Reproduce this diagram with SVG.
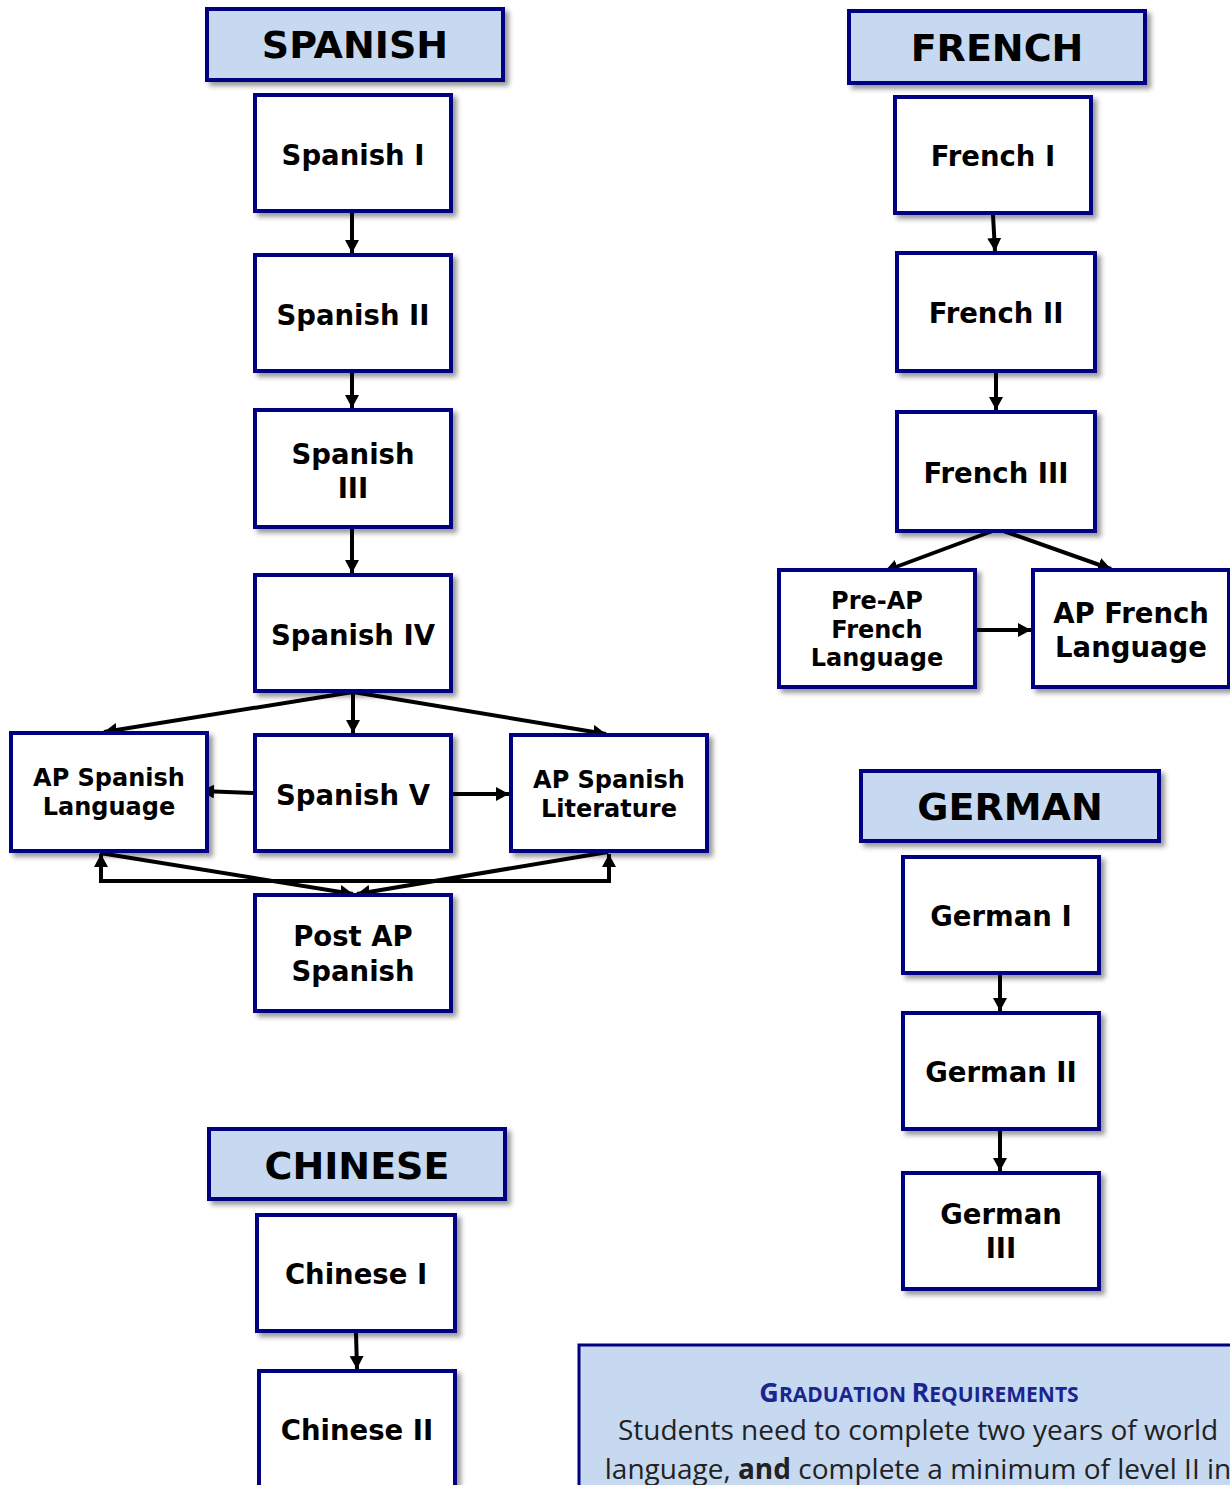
<svg xmlns="http://www.w3.org/2000/svg" width="1230" height="1485" viewBox="0 0 1230 1485">
<defs>
<filter id="sh" x="-10%" y="-10%" width="130%" height="130%">
<feDropShadow dx="4" dy="4" stdDeviation="2.5" flood-color="#000" flood-opacity="0.4"/>
</filter>
<marker id="ah" markerUnits="userSpaceOnUse" markerWidth="16" markerHeight="16" refX="13" refY="7" orient="auto">
<path d="M0,0 L13,7 L0,14 z" fill="#000"/>
</marker>
</defs>
<style>
.hdr rect{fill:#c6d9f1;stroke:#000080;stroke-width:4;filter:url(#sh)}
.nd rect{fill:#fff;stroke:#000080;stroke-width:4;filter:url(#sh)}
.hdr text{font-family:"DejaVu Sans",Verdana,sans-serif;font-weight:bold;font-size:38px;text-anchor:middle;fill:#000}
.nd text{font-family:"DejaVu Sans",Verdana,sans-serif;font-weight:bold;font-size:27.5px;text-anchor:middle;fill:#000}
.nd text.sm{font-size:24px}
.cn path{fill:none;stroke:#000;stroke-width:4;marker-end:url(#ah)}
.gr text{font-family:"Open Sans","Liberation Sans",sans-serif;text-anchor:middle}
</style>

<g class="cn" id="connectors">
<path d="M352,213 V253"/>
<path d="M352,373 V408"/>
<path d="M352,529 V573"/>
<path d="M353,692 L104,732"/>
<path d="M353,692 V733"/>
<path d="M353,692 L606,734"/>
<path d="M253,793 L201,791"/>
<path d="M453,794 H509"/>
<path d="M100,853 L353,894"/>
<path d="M608,852 L357,894"/>
<path d="M355,881 H101 V854"/>
<path d="M355,881 H609 V854"/>
<path d="M993,215 L995,251"/>
<path d="M996,373 V410"/>
<path d="M998,529 L885,571"/>
<path d="M998,529 L1111,569"/>
<path d="M977,630 H1031"/>
<path d="M1000,975 V1011"/>
<path d="M1000,1131 V1171"/>
<path d="M356,1333 L357,1369"/>
</g>

<g class="hdr" id="h-spanish"><rect x="207" y="9" width="296" height="71"/><text x="355" y="58">SPANISH</text></g>
<g class="hdr" id="h-french"><rect x="849" y="11" width="296" height="72"/><text x="997" y="61">FRENCH</text></g>
<g class="hdr" id="h-german"><rect x="861" y="771" width="298" height="70"/><text x="1010" y="820">GERMAN</text></g>
<g class="hdr" id="h-chinese"><rect x="209" y="1129" width="296" height="70"/><text x="357" y="1179">CHINESE</text></g>

<g class="nd" id="spanish1"><rect x="255" y="95" width="196" height="116"/><text x="353" y="165">Spanish I</text></g>
<g class="nd" id="spanish2"><rect x="255" y="255" width="196" height="116"/><text x="353" y="325">Spanish II</text></g>
<g class="nd" id="spanish3"><rect x="255" y="410" width="196" height="117"/><text x="353" y="464">Spanish</text><text x="353" y="498">III</text></g>
<g class="nd" id="spanish4"><rect x="255" y="575" width="196" height="116"/><text x="353" y="645">Spanish IV</text></g>
<g class="nd" id="apspanlang"><rect x="11" y="733" width="196" height="118"/><text class="sm" x="109" y="786">AP Spanish</text><text class="sm" x="109" y="815">Language</text></g>
<g class="nd" id="spanish5"><rect x="255" y="735" width="196" height="116"/><text x="353" y="805">Spanish V</text></g>
<g class="nd" id="apspanlit"><rect x="511" y="735" width="196" height="116"/><text class="sm" x="609" y="788">AP Spanish</text><text class="sm" x="609" y="817">Literature</text></g>
<g class="nd" id="postap"><rect x="255" y="895" width="196" height="116"/><text x="353" y="946">Post AP</text><text x="353" y="981">Spanish</text></g>

<g class="nd" id="french1"><rect x="895" y="97" width="196" height="116"/><text x="993" y="166">French I</text></g>
<g class="nd" id="french2"><rect x="897" y="253" width="198" height="118"/><text x="996" y="323">French II</text></g>
<g class="nd" id="french3"><rect x="897" y="412" width="198" height="119"/><text x="996" y="483">French III</text></g>
<g class="nd" id="preapfr"><rect x="779" y="570" width="196" height="117"/><text class="sm" x="877" y="609">Pre-AP</text><text class="sm" x="877" y="638">French</text><text class="sm" x="877" y="666">Language</text></g>
<g class="nd" id="apfr"><rect x="1033" y="570" width="196" height="117"/><text x="1131" y="623">AP French</text><text x="1131" y="657">Language</text></g>

<g class="nd" id="german1"><rect x="903" y="857" width="196" height="116"/><text x="1001" y="926">German I</text></g>
<g class="nd" id="german2"><rect x="903" y="1013" width="196" height="116"/><text x="1001" y="1082">German II</text></g>
<g class="nd" id="german3"><rect x="903" y="1173" width="196" height="116"/><text x="1001" y="1224">German</text><text x="1001" y="1258">III</text></g>

<g class="nd" id="chinese1"><rect x="257" y="1215" width="198" height="116"/><text x="356" y="1284">Chinese I</text></g>
<g class="nd" id="chinese2"><rect x="259" y="1371" width="196" height="130"/><text x="357" y="1440">Chinese II</text></g>

<g class="gr" id="gradreq">
<rect x="579" y="1345" width="670" height="160" fill="#c6d9f1" stroke="#000080" stroke-width="3"/>
<text x="919" y="1402" fill="#1a2590" font-size="27px" font-weight="bold"><tspan>G</tspan><tspan font-size="21px">RADUATION </tspan><tspan>R</tspan><tspan font-size="21px">EQUIREMENTS</tspan></text>
<text x="918" y="1440" fill="#222" font-size="28px">Students need to complete two years of world</text>
<text x="918" y="1479" fill="#222" font-size="28px">language, <tspan font-weight="bold">and</tspan> complete a minimum of level II in</text>
</g>
</svg>
